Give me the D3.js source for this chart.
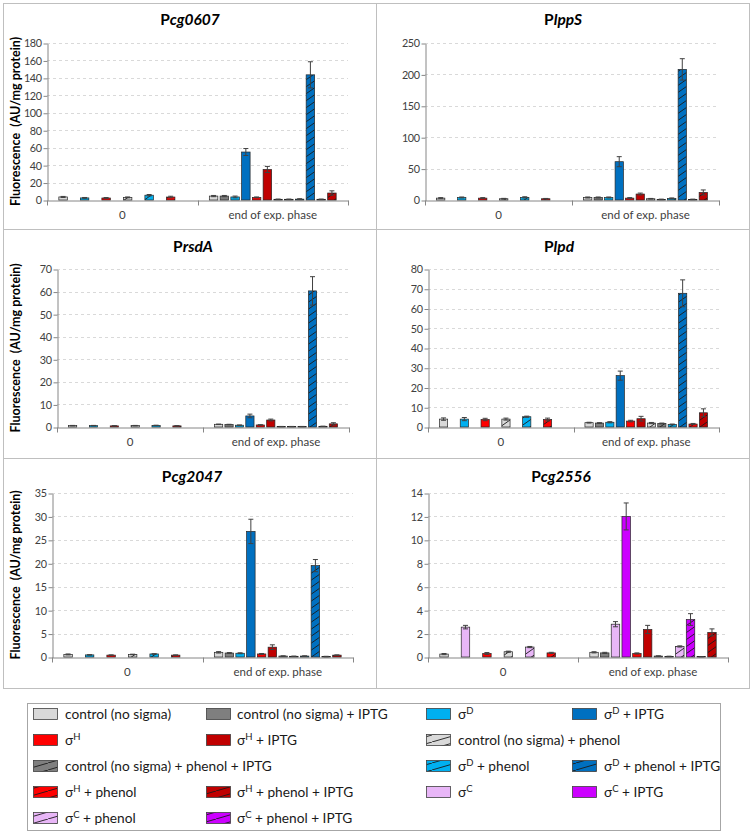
<!DOCTYPE html>
<html><head><meta charset="utf-8">
<script src="https://cdn.jsdelivr.net/npm/d3@7"></script>
<style>body{margin:0;background:#fff} svg{display:block;font-family:Lato,'Open Sans',sans-serif}</style>
</head><body><svg id="c" width="752" height="833"></svg>
<script>
// ---------- DATA ----------
const categories = ["0", "end of exp. phase"];
// series order inside each category
const seriesKeys = ["ctrl","ctrlI","sig","sigI","h","hI","ctrlP","ctrlPI","sigP","sigPI","hP","hPI"];

const pcg0607Zero    = [3.5,null,2.4,null,2.3,null,3.0,null,5.5,null,3.4,null];
const pcg0607ZeroErr = [0.6,0,0.5,0,0.5,0,0.5,0,0.8,0,0.9,0];
const pcg0607End     = [4.5,4.5,3.5,55,3.0,35,0.8,0.8,1.0,143.5,0.8,8];
const pcg0607EndErr  = [0.7,0.7,1.0,4,0.5,3.5,0.3,0.3,0.5,15,0.3,2.5];

const plppSZero    = [3.0,null,4.0,null,3.0,null,2.0,null,4.2,null,2.0,null];
const plppSZeroErr = [0.8,0,0.8,0,0.8,0,0.6,0,1.0,0,0.5,0];
const plppSEnd     = [4.0,4.0,4.0,61,3.0,9.5,2.0,1.0,2.5,208,1.0,12];
const plppSEndErr  = [0.8,0.8,0.8,8,0.8,1.5,0.5,0.4,0.8,17,0.4,4];

const prsdAZero    = [0.6,null,0.6,null,0.5,null,0.6,null,0.7,null,0.5,null];
const prsdAZeroErr = [0.1,0,0.1,0,0.1,0,0.1,0,0.1,0,0.1,0];
const prsdAEnd     = [1.2,1.1,0.8,4.9,0.9,3.1,0.2,0.2,0.2,60.3,0.3,1.4];
const prsdAEndErr  = [0.1,0.1,0.1,0.8,0.1,0.4,0.05,0.05,0.05,6.3,0.05,0.5];

const plpdZero    = [4.0,null,4.0,null,3.8,null,4.0,null,5.2,null,3.8,null];
const plpdZeroErr = [0.6,0,0.8,0,0.6,0,0.5,0,0.3,0,0.7,0];
const plpdEnd     = [2.2,2.0,2.4,26,3.0,4.2,2.0,1.8,1.3,67.7,1.5,7.2];
const plpdEndErr  = [0.2,0.2,0.3,2.3,0.4,1.2,0.3,0.2,0.2,6.8,0.3,2.0];

const pcg2047Zero    = [0.55,null,0.45,null,0.4,null,0.55,null,0.65,null,0.4,null];
const pcg2047ZeroErr = [0.1,0,0.05,0,0.05,0,0.05,0,0.05,0,0.05,0];
const pcg2047End     = [1.0,0.85,0.8,26.8,0.65,2.1,0.2,0.15,0.2,19.5,0.1,0.4];
const pcg2047EndErr  = [0.15,0.1,0.1,2.6,0.1,0.5,0.05,0.05,0.05,1.3,0.05,0.05];

const pcg2556Zero    = [0.25,null,2.55,null,0.3,null,0.45,null,0.85,null,0.35,null];
const pcg2556ZeroErr = [0.05,0,0.15,0,0.08,0,0.05,0,0.05,0,0.05,0];
const pcg2556End     = [0.4,0.35,2.8,12.0,0.3,2.35,0.08,0.05,0.9,3.2,0.03,2.1];
const pcg2556EndErr  = [0.05,0.05,0.22,1.15,0.05,0.35,0.02,0.02,0.05,0.5,0.01,0.3];

const yTicksPcg0607 = [0,20,40,60,80,100,120,140,160,180];
const yTicksPlppS   = [0,50,100,150,200,250];
const yTicksPrsdA   = [0,10,20,30,40,50,60,70];
const yTicksPlpd    = [0,10,20,30,40,50,60,70,80];
const yTicksPcg2047 = [0,5,10,15,20,25,30,35];
const yTicksPcg2556 = [0,2,4,6,8,10,12,14];

const legendKeys = ["ctrl","ctrlI","sigD","sigDI","h","hI","ctrlP","ctrlPI","sigDP","sigDPI","hP","hPI","sigC","sigCI","sigCP","sigCPI"];

// ---------- STYLE ----------
const baseFill = {ctrl:"#d9d9d9", ctrlI:"#7f7f7f", sigD:"#00b0f0", sigDI:"#0070c0",
  h:"#ff0000", hI:"#c00000", sigC:"#e8b6f7", sigCI:"#cc00ff"};
const FONT = "Lato,'Open Sans',sans-serif";
function labelParts(key){
  const ipt = key.endsWith("I"); let k = ipt? key.slice(0,-1):key;
  const ph = k.endsWith("P"); if(ph) k = k.slice(0,-1);
  let main, sup=null;
  if(k==="ctrl") main="control (no sigma)";
  else if(k==="h"){main="σ"; sup="H";}
  else if(k==="sigD"){main="σ"; sup="D";}
  else if(k==="sigC"){main="σ"; sup="C";}
  let rest = (ph? " + phenol":"") + (ipt? " + IPTG":"");
  return {main, sup, rest};
}
function parseKey(key){
  let k=key; const ipt=k.endsWith("I"); if(ipt) k=k.slice(0,-1);
  const ph=k.endsWith("P"); if(ph) k=k.slice(0,-1);
  return {base: k + (ipt?"I":""), hatched: ph};
}

const svg = d3.select("#c");
const defs = svg.append("defs");
Object.keys(baseFill).forEach(b=>{
  const p = defs.append("pattern").attr("id","hb_"+b).attr("patternUnits","userSpaceOnUse")
    .attr("width",10).attr("height",7);
  p.append("rect").attr("width",10).attr("height",7).attr("fill",baseFill[b]);
  [[0,7,10,0],[-10,7,0,0],[10,7,20,0],[0,14,10,7],[0,0,10,-7]].forEach(l=>
    p.append("line").attr("x1",l[0]).attr("y1",l[1]).attr("x2",l[2]).attr("y2",l[3])
      .attr("stroke","#1a1a1a").attr("stroke-width",0.9));
  const q = defs.append("pattern").attr("id","hl_"+b).attr("patternUnits","userSpaceOnUse")
    .attr("width",24).attr("height",7);
  q.append("rect").attr("width",24).attr("height",7).attr("fill",baseFill[b]);
  [[0,7,24,0],[-24,7,0,0],[24,7,48,0]].forEach(l=>
    q.append("line").attr("x1",l[0]).attr("y1",l[1]).attr("x2",l[2]).attr("y2",l[3])
      .attr("stroke","#1a1a1a").attr("stroke-width",0.9));
});
function fillFor(key, kind){
  const {base, hatched} = parseKey(key);
  return hatched ? `url(#${kind}_${base})` : baseFill[base];
}

// ---------- PANELS ----------
const panels = [
  {t1:"P", t2:"cg0607", zero:pcg0607Zero, zeroErr:pcg0607ZeroErr, end:pcg0607End, endErr:pcg0607EndErr, ticks:yTicksPcg0607, sig:"sigD",
   box:[3,3,376,229], x0:47, x1:348, yT:43, yB:200, ylab:true, tx:190, ty:25},
  {t1:"P", t2:"lppS", zero:plppSZero, zeroErr:plppSZeroErr, end:plppSEnd, endErr:plppSEndErr, ticks:yTicksPlppS, sig:"sigD",
   box:[376,3,749,229], x0:425, x1:719, yT:43, yB:200, ylab:false, tx:563, ty:25},
  {t1:"P", t2:"rsdA", zero:prsdAZero, zeroErr:prsdAZeroErr, end:prsdAEnd, endErr:prsdAEndErr, ticks:yTicksPrsdA, sig:"sigD",
   box:[3,229,376,458], x0:57, x1:349, yT:269, yB:427, ylab:true, tx:193, ty:252},
  {t1:"P", t2:"lpd", zero:plpdZero, zeroErr:plpdZeroErr, end:plpdEnd, endErr:plpdEndErr, ticks:yTicksPlpd, sig:"sigD",
   box:[376,229,749,458], x0:428, x1:719, yT:269, yB:427, ylab:false, tx:559, ty:252},
  {t1:"P", t2:"cg2047", zero:pcg2047Zero, zeroErr:pcg2047ZeroErr, end:pcg2047End, endErr:pcg2047EndErr, ticks:yTicksPcg2047, sig:"sigD",
   box:[3,458,376,688], x0:52, x1:353, yT:493, yB:657, ylab:true, tx:192, ty:482},
  {t1:"P", t2:"cg2556", zero:pcg2556Zero, zeroErr:pcg2556ZeroErr, end:pcg2556End, endErr:pcg2556EndErr, ticks:yTicksPcg2556, sig:"sigC",
   box:[376,458,749,688], x0:428, x1:728, yT:493, yB:657, ylab:false, tx:561, ty:482},
];

panels.forEach(P=>{
  const g = svg.append("g");
  const [bx0,by0,bx1,by1] = P.box;
  g.append("rect").attr("x",bx0+0.5).attr("y",by0+0.5).attr("width",bx1-bx0).attr("height",by1-by0)
    .attr("fill","none").attr("stroke","#bfbfbf").attr("stroke-width",1);

  const x = d3.scaleBand().domain(categories).range([P.x0,P.x1]).paddingInner(0).paddingOuter(0);
  const xs = d3.scaleBand().domain(d3.range(seriesKeys.length)).range([0,x.bandwidth()])
    .paddingInner(0.21).paddingOuter(1.1);
  const ymax = P.ticks[P.ticks.length-1];
  const y = d3.scaleLinear().domain([0,ymax]).range([P.yB,P.yT]);

  g.selectAll(".grid").data(P.ticks.filter(t=>t>0)).join("line")
    .attr("x1",P.x0).attr("x2",P.x1).attr("y1",d=>Math.round(y(d))+0.5).attr("y2",d=>Math.round(y(d))+0.5)
    .attr("stroke","#d9d9d9").attr("stroke-dasharray","3,3");

  const ya = g.append("g").attr("transform",`translate(${P.x0+0.5},0.5)`)
    .call(d3.axisLeft(y).tickValues(P.ticks).tickSize(4).tickSizeOuter(0).tickPadding(2));
  ya.select(".domain").attr("stroke","#868686");
  ya.selectAll(".tick line").attr("stroke","#868686");
  ya.selectAll(".tick text").attr("font-size",10.8).attr("letter-spacing",-0.4).attr("fill","#404040").attr("font-family",FONT);

  const xa = g.append("g").attr("transform",`translate(0,${P.yB+0.5})`)
    .call(d3.axisBottom(x).tickSize(0).tickPadding(10));
  xa.select(".domain").attr("stroke","#868686");
  xa.selectAll(".tick text").attr("font-size",11.5).attr("fill","#404040").attr("font-family",FONT);
  [P.x0, P.x0+x.bandwidth(), P.x1].forEach(v=>
    xa.append("line").attr("x1",Math.round(v)+0.5).attr("x2",Math.round(v)+0.5).attr("y1",0).attr("y2",5).attr("stroke","#868686"));

  const mapKey = k => k.replace("sig", P.sig);
  const rows = [];
  [[categories[0],P.zero,P.zeroErr],[categories[1],P.end,P.endErr]].forEach(([cat,vals,errs])=>{
    vals.forEach((v,i)=>{ if(v!=null) rows.push({cat, i, v, e:errs[i], key:mapKey(seriesKeys[i])}); });
  });
  const bw = xs.bandwidth();
  g.selectAll(".bar").data(rows).join("rect")
    .attr("x",d=>x(d.cat)+xs(d.i)).attr("width",bw)
    .attr("y",d=>y(d.v)).attr("height",d=>P.yB-y(d.v))
    .attr("fill",d=>fillFor(d.key,"hb")).attr("stroke","#262626").attr("stroke-width",0.7);
  const eg = g.selectAll(".err").data(rows.filter(d=>d.e>0)).join("g").attr("stroke","#404040").attr("stroke-width",1);
  const cx = d=>x(d.cat)+xs(d.i)+bw/2;
  eg.append("line").attr("x1",cx).attr("x2",cx).attr("y1",d=>y(d.v+d.e)).attr("y2",d=>y(Math.max(0,d.v-d.e)));
  eg.append("line").attr("x1",d=>cx(d)-2.5).attr("x2",d=>cx(d)+2.5).attr("y1",d=>y(d.v+d.e)).attr("y2",d=>y(d.v+d.e));
  eg.append("line").attr("x1",d=>cx(d)-2.5).attr("x2",d=>cx(d)+2.5).attr("y1",d=>y(Math.max(0,d.v-d.e))).attr("y2",d=>y(Math.max(0,d.v-d.e)));

  const t = g.append("text").attr("x",P.tx).attr("y",P.ty).attr("text-anchor","middle")
    .attr("font-size",15.5).attr("font-weight","bold").attr("fill","#000");
  t.append("tspan").text(P.t1);
  t.append("tspan").attr("font-style","italic").text(P.t2);

  if(P.ylab){
    g.append("text").attr("transform",`translate(20,${(P.yT+P.yB)/2}) rotate(-90)`)
      .attr("text-anchor","middle").attr("font-size",12.5).attr("font-weight","bold").attr("fill","#000")
      .attr("xml:space","preserve").text("Fluorescence  (AU/mg protein)");
  }
});

// ---------- LEGEND ----------
const lg = svg.append("g");
lg.append("rect").attr("x",27.5).attr("y",703.5).attr("width",693).attr("height",127)
  .attr("fill","#fff").attr("stroke","#a6a6a6");
const colSw = [33,206,426,572], colTx = [65,237,458,604], colEnd=[206,426,572,720];
const rowY = [714,740,766,792,818];
let r=0,c=0;
legendKeys.forEach(key=>{
  const {main,sup,rest} = labelParts(key);
  const yy = rowY[r];
  const t = lg.append("text").attr("x",colTx[c]).attr("y",yy+4.5).attr("font-size",13.7).attr("fill","#1a1a1a");
  t.append("tspan").text(main);
  if(sup) t.append("tspan").attr("font-size",9.5).attr("dy",-5).text(sup);
  if(rest) t.append("tspan").attr("dy",sup?5:0).text(rest);
  lg.append("rect").attr("x",colSw[c]+0.5).attr("y",yy-5.5).attr("width",24).attr("height",11)
    .attr("fill",fillFor(key,"hl")).attr("stroke","#404040").attr("stroke-width",0.8);
  const w = t.node().getComputedTextLength();
  let span = 1;
  if(colTx[c]+w > colEnd[c]-4) span = 2;
  c += span;
  if(c>=4){c=0;r++;}
});
</script></body></html>
